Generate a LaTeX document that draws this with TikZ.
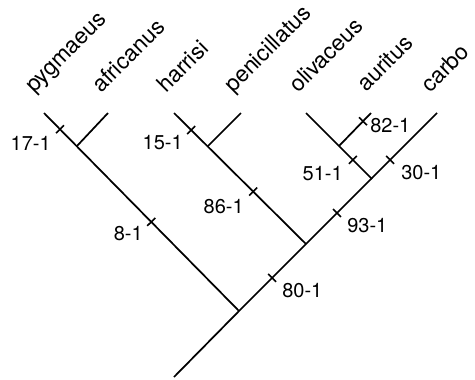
\documentclass[tikz,border=0pt]{standalone}
\usepackage{fontspec}
\setmainfont{TeX Gyre Heros}
\usetikzlibrary{calc}
\begin{document}
\begin{tikzpicture}[x=0.75pt,y=-0.75pt,
  branch/.style={line width=1.3pt},
  tickmark/.style={line width=1.2pt},
  lab/.style={font=\fontsize{15}{18}\selectfont, inner sep=0pt},
  sp/.style={font=\fontsize{17}{20}\selectfont, inner sep=0pt, rotate=45, anchor=base west}]
\useasboundingbox (0,0) rectangle (475,379);
% tree points
\coordinate (P) at (44,113);
\coordinate (Af) at (108,113);
\coordinate (A1) at (77,146);
\coordinate (H) at (174,113);
\coordinate (Pe) at (241,113);
\coordinate (A2) at (208,146);
\coordinate (O) at (306,113);
\coordinate (Au) at (371,113);
\coordinate (J3) at (339,146);
\coordinate (C) at (437,113);
\coordinate (J4) at (372,179);
\coordinate (J2) at (306,244);
\coordinate (R) at (239,311);
\coordinate (E) at (174,377);
% branches
\draw[branch] (P) -- (R);
\draw[branch] (Af) -- (A1);
\draw[branch] (H) -- (J2);
\draw[branch] (Pe) -- (A2);
\draw[branch] (O) -- (J4);
\draw[branch] (Au) -- (J3);
\draw[branch] (C) -- (R);
\draw[branch] (R) -- (E);
% tick positions
\coordinate (t17) at ($(P)!0.082!(R)$);
\coordinate (t8) at ($(P)!0.55!(R)$);
\coordinate (t15) at ($(H)!0.13!(J2)$);
\coordinate (t86) at ($(H)!0.6!(J2)$);
\coordinate (t82) at ($(J3)!0.75!(Au)$);
\coordinate (t51) at ($(J3)!0.42!(J4)$);
\coordinate (t30) at ($(R)!0.763!(C)$);
\coordinate (t93) at ($(R)!0.495!(C)$);
\coordinate (t80) at ($(R)!0.167!(C)$);
\foreach \t/\e in {t17/R, t8/R, t15/J2, t86/J2, t82/Au, t51/J4, t30/C, t93/C, t80/C}{
  \draw[tickmark] ($(\t)!4.2pt!90:(\e)$) -- ($(\t)!4.2pt!-90:(\e)$);
}
% character labels
\node[lab, anchor=base east] (l17) at (51,150) {17-1};
\node[lab, anchor=base east] (l15) at (183,149) {15-1};
\node[lab, anchor=base west] (l82) at (370,132) {82-1};
\node[lab, anchor=base east] (l51) at (343,180) {51-1};
\node[lab, anchor=base west] (l30) at (401,179) {30-1};
\node[lab, anchor=base east] (l86) at (244,213) {86-1};
\node[lab, anchor=base east] (l8) at (143,240) {8-1};
\node[lab, anchor=base west] (l93) at (347,232) {93-1};
\node[lab, anchor=base west] (l80) at (282,297) {80-1};
% species labels
\node[sp] (spP) at (34,94) {pygmaeus};
\node[sp] (spAf) at (101,94) {africanus};
\node[sp] (spH) at (166,94) {harrisi};
\node[sp] (spPe) at (233,94) {penicillatus};
\node[sp] (spO) at (298,94) {olivaceus};
\node[sp] (spAu) at (366,93) {auritus};
\node[sp] (spC) at (430,94) {carbo};
\end{tikzpicture}
\end{document}
